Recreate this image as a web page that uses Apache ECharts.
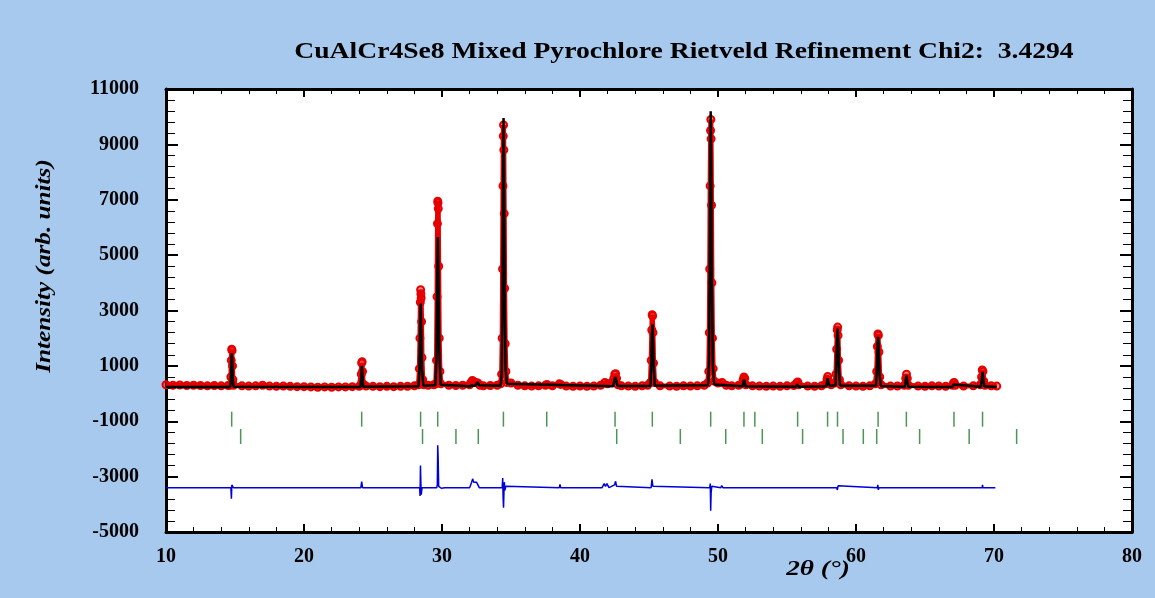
<!DOCTYPE html>
<html>
<head>
<meta charset="utf-8">
<script src="https://cdn.jsdelivr.net/npm/echarts@6/dist/echarts.min.js"></script>
<style>
  html, body { margin: 0; padding: 0; background: #a8c9ee; }
  #chart { width: 1155px; height: 598px; }
</style>
</head>
<body>
<div id="chart"></div>
<script>
// observed intensity, [2theta, counts]
var observed = [
  [10.0, 320], [10.5, 300], [11.0, 310], [11.5, 290], [12.0, 300], [12.5, 290], [13.0, 280], [13.5, 290], [14.0, 280], [14.5, 290],
  [14.65, 300], [14.70, 600], [14.73, 1200], [14.76, 1600], [14.79, 1550], [14.82, 1000], [14.85, 500], [14.90, 300],
  [15.5, 280], [16.0, 270], [16.5, 280], [17.0, 300], [17.5, 270], [18.0, 260], [18.5, 270], [19.0, 260], [19.5, 250], [20.0, 250],
  [20.5, 240], [21.0, 230], [21.5, 240], [22.0, 230], [22.5, 240], [23.0, 240], [23.5, 250], [24.0, 260],
  [24.10, 300], [24.15, 700], [24.18, 1100], [24.21, 1150], [24.24, 800], [24.28, 350],
  [24.5, 270], [25.0, 260], [25.5, 250], [26.0, 260], [26.5, 250], [27.0, 260], [27.5, 260], [28.0, 280],
  [28.30, 320], [28.36, 900], [28.40, 2000], [28.43, 3300], [28.45, 3750], [28.47, 3600], [28.49, 3450], [28.52, 2600], [28.55, 1300], [28.60, 500], [28.68, 320],
  [29.0, 300], [29.4, 320],
  [29.55, 350], [29.60, 1200], [29.64, 3500], [29.67, 6140], [29.69, 6950], [29.71, 6880], [29.73, 6680], [29.76, 4600], [29.80, 2000], [29.85, 800], [29.92, 350],
  [30.5, 300], [31.0, 290], [31.5, 300], [32.0, 320],
  [32.1, 400], [32.2, 470], [32.3, 440], [32.45, 400], [32.6, 380], [32.75, 300],
  [33.0, 280], [33.5, 290], [34.0, 300], [34.25, 350],
  [34.32, 700], [34.36, 2000], [34.39, 4500], [34.42, 7500], [34.44, 9300], [34.46, 9700], [34.48, 8800], [34.51, 6500], [34.54, 3800], [34.58, 1800], [34.63, 800], [34.70, 400],
  [35.0, 380], [35.5, 300], [36.0, 280], [36.5, 270], [37.0, 280], [37.5, 300], [37.6, 330], [38.0, 280], [38.5, 350], [38.6, 330],
  [39.0, 270], [39.5, 260], [40.0, 270], [40.5, 260], [41.0, 270], [41.5, 300], [41.8, 400], [42.0, 350], [42.3, 400],
  [42.45, 550], [42.52, 700], [42.58, 720], [42.65, 550], [42.75, 320],
  [43.0, 280], [43.5, 270], [44.0, 260], [44.5, 280], [44.9, 300],
  [45.10, 400], [45.16, 1200], [45.20, 2300], [45.23, 2850], [45.26, 2800], [45.29, 2200], [45.33, 1100], [45.40, 400],
  [45.8, 280], [46.5, 270], [47.0, 260], [47.5, 280], [48.0, 270], [48.5, 280], [49.0, 300], [49.25, 380],
  [49.33, 800], [49.37, 2200], [49.40, 4500], [49.43, 7500], [49.46, 9500], [49.48, 9900], [49.50, 9200], [49.53, 6800], [49.56, 4000], [49.60, 2000], [49.65, 900], [49.72, 450],
  [50.0, 380], [50.3, 400], [50.6, 300], [51.0, 280], [51.5, 300], [51.75, 350],
  [51.82, 500], [51.88, 600], [51.94, 550], [52.02, 320],
  [52.5, 280], [53.0, 270], [53.5, 260], [54.0, 270], [54.5, 260], [55.0, 280], [55.5, 290],
  [55.70, 380], [55.78, 420], [55.85, 320],
  [56.5, 270], [57.0, 260], [57.5, 280], [57.8, 350],
  [57.90, 520], [57.95, 620], [58.02, 450], [58.2, 320], [58.45, 380],
  [58.55, 700], [58.60, 1600], [58.64, 2300], [58.67, 2400], [58.70, 2100], [58.74, 1200], [58.80, 500], [58.9, 320],
  [59.5, 280], [60.0, 270], [60.5, 260], [61.0, 280], [61.4, 350],
  [61.50, 800], [61.55, 1700], [61.59, 2150], [61.62, 2100], [61.66, 1500], [61.72, 600], [61.82, 320],
  [62.5, 270], [63.0, 270], [63.5, 300],
  [63.60, 550], [63.66, 700], [63.72, 550], [63.80, 300],
  [64.5, 270], [65.0, 260], [65.5, 280], [66.0, 270], [66.5, 260], [67.0, 300],
  [67.06, 380], [67.12, 400], [67.2, 300],
  [67.8, 270], [68.5, 280], [69.0, 320],
  [69.10, 600], [69.15, 850], [69.20, 800], [69.26, 450], [69.35, 300],
  [69.8, 280], [70.2, 270]
];

// calculated profile
var calculated = [
  [10.0, 240], [14.65, 240], [14.70, 500], [14.74, 1200], [14.77, 1450], [14.80, 1200], [14.84, 500], [14.90, 250],
  [24.10, 240], [24.15, 600], [24.19, 1000], [24.23, 700], [24.28, 250],
  [28.30, 260], [28.36, 800], [28.41, 2400], [28.45, 3250], [28.49, 2400], [28.55, 900], [28.65, 280],
  [29.52, 300], [29.60, 1300], [29.65, 4000], [29.70, 5650], [29.74, 4200], [29.80, 1600], [29.90, 320],
  [32.0, 260], [32.15, 290], [32.4, 280], [32.5, 330], [32.58, 420], [32.68, 300],
  [34.25, 280], [34.33, 800], [34.38, 3000], [34.42, 7200], [34.46, 9950], [34.50, 7300], [34.55, 3000], [34.61, 900], [34.70, 350],
  [42.40, 260], [42.50, 480], [42.56, 600], [42.62, 480], [42.72, 270],
  [45.10, 270], [45.16, 1000], [45.21, 2100], [45.25, 2500], [45.29, 2000], [45.35, 900], [45.42, 280],
  [49.28, 300], [49.35, 1200], [49.40, 4500], [49.44, 8500], [49.47, 10200], [49.51, 8000], [49.56, 3800], [49.63, 1000], [49.72, 330],
  [51.78, 260], [51.84, 420], [51.88, 500], [51.93, 420], [52.0, 260],
  [55.65, 250], [55.75, 330], [55.85, 250],
  [57.85, 260], [57.91, 450], [57.95, 550], [58.0, 400], [58.1, 270],
  [58.52, 300], [58.58, 1200], [58.63, 2000], [58.67, 2350], [58.71, 1900], [58.77, 800], [58.85, 280],
  [61.45, 280], [61.52, 1000], [61.57, 1800], [61.60, 2050], [61.64, 1700], [61.70, 700], [61.80, 270],
  [63.55, 250], [63.61, 500], [63.66, 650], [63.71, 480], [63.80, 250],
  [67.00, 240], [67.07, 330], [67.12, 380], [67.18, 280],
  [69.05, 250], [69.12, 550], [69.17, 780], [69.22, 550], [69.30, 260], [70.2, 240]
];

// difference curve (obs - calc), plotted with offset
var difference = [
  [10.0, -3400], [14.70, -3400], [14.74, -3800], [14.77, -3300], [14.82, -3350], [14.88, -3400],
  [17.0, -3400], [17.05, -3350], [17.1, -3400],
  [24.12, -3400], [24.18, -3180], [24.24, -3400],
  [28.38, -3400], [28.41, -3700], [28.44, -2600], [28.47, -3250], [28.50, -3650], [28.55, -3400],
  [29.62, -3400], [29.66, -3300], [29.69, -1870], [29.72, -2300], [29.76, -3350], [29.85, -3400], [29.95, -3420], [30.2, -3400],
  [32.0, -3400], [32.15, -3200], [32.22, -3080], [32.3, -3200], [32.4, -3250], [32.5, -3200], [32.6, -3300], [32.7, -3400],
  [34.36, -3400], [34.40, -3050], [34.43, -3800], [34.46, -4120], [34.49, -3550], [34.52, -3200], [34.56, -3500], [34.62, -3350], [34.70, -3400],
  [38.5, -3400], [38.55, -3280], [38.6, -3400],
  [41.6, -3400], [41.75, -3250], [41.85, -3350], [41.95, -3250], [42.1, -3400], [42.5, -3300], [42.58, -3170], [42.65, -3350], [42.75, -3400],
  [45.15, -3400], [45.22, -3100], [45.28, -3350], [45.35, -3400],
  [49.40, -3400], [49.44, -3250], [49.47, -4230], [49.50, -3600], [49.55, -3350], [49.62, -3400],
  [50.2, -3400], [50.27, -3320], [50.35, -3400],
  [55.7, -3400], [55.75, -3330], [55.8, -3400],
  [58.6, -3400], [58.65, -3480], [58.7, -3330], [58.75, -3400],
  [61.55, -3400], [61.58, -3300], [61.62, -3480], [61.66, -3400],
  [63.62, -3400], [63.66, -3330], [63.7, -3400],
  [67.1, -3400], [67.13, -3350], [67.16, -3400],
  [69.14, -3400], [69.17, -3300], [69.2, -3400],
  [70.1, -3400]
];

// Bragg reflection positions (2theta) for the two phases
var braggPhase1 = [14.76, 24.18, 28.45, 29.69, 34.45, 37.59, 42.54, 45.24, 49.47, 51.88, 52.67, 55.77, 57.94, 58.66, 61.6, 63.65, 67.1, 69.17];
var braggPhase2 = [15.41, 28.59, 31.01, 32.63, 42.66, 47.27, 50.56, 53.21, 56.13, 59.06, 60.53, 61.5, 64.61, 68.2, 71.64];
var braggRows = [-925, -1550];

var serif = 'Liberation Serif, Times New Roman, serif';

var chart = echarts.init(document.getElementById('chart'));

function tickRow(list, level) {
  return list.map(function (x) { return [x, level]; });
}

var xAxisBase = {
  type: 'value', min: 10, max: 80, interval: 10,
  axisLine: { show: true, onZero: false, lineStyle: { color: '#000', width: 3 } },
  axisTick: { show: true, inside: true, length: 8, lineStyle: { color: '#000', width: 2 } },
  minorTick: { show: true, splitNumber: 5, length: 5, lineStyle: { color: '#000', width: 1 } },
  splitLine: { show: false }
};
var yAxisBase = {
  type: 'value', min: -5000, max: 11000, interval: 2000,
  axisLine: { show: true, onZero: false, lineStyle: { color: '#000', width: 3 } },
  axisTick: { show: true, inside: true, length: 12, lineStyle: { color: '#000', width: 2 } },
  minorTick: { show: true, splitNumber: 5, length: 9, lineStyle: { color: '#000', width: 1 } },
  splitLine: { show: false }
};

var option = {
  backgroundColor: '#a8c9ee',
  animation: false,
  grid: { left: 166, right: 23, top: 89, bottom: 66, show: true, backgroundColor: '#fff', borderWidth: 0 },
  xAxis: [
    Object.assign({}, xAxisBase, {
      position: 'bottom',
      axisLabel: { margin: 15, fontFamily: serif, fontWeight: 'bold', fontSize: 20, color: '#000' }
    }),
    Object.assign({}, xAxisBase, { position: 'top', axisLabel: { show: false } })
  ],
  yAxis: [
    Object.assign({}, yAxisBase, {
      position: 'left',
      axisLabel: {
        margin: 27, fontFamily: serif, fontWeight: 'bold', fontSize: 20, color: '#000',
        formatter: function (v) { return String(v); }
      }
    }),
    Object.assign({}, yAxisBase, { position: 'right', axisLabel: { show: false } })
  ],
  graphic: [
    {
      type: 'text', x: 684, y: 52, scaleX: 1.15,
      style: {
        text: 'CuAlCr4Se8 Mixed Pyrochlore Rietveld Refinement Chi2:  3.4294', fill: '#000',
        font: 'bold 24px ' + serif, align: 'center', verticalAlign: 'middle'
      }
    },
    {
      type: 'text', x: 45, y: 266, rotation: Math.PI / 2, scaleX: 1.2,
      style: {
        text: 'Intensity (arb. units)', fill: '#000',
        font: 'italic bold 21px ' + serif, align: 'center', verticalAlign: 'middle'
      }
    },
    {
      type: 'text', x: 818, y: 570, scaleX: 1.3,
      style: {
        text: '2θ (°)', fill: '#000',
        font: 'italic bold 21px ' + serif, align: 'center', verticalAlign: 'middle'
      }
    }
  ],
  series: [
    {
      name: 'Observed', type: 'line', data: observed,
      showSymbol: true, showAllSymbol: true, symbol: 'circle', symbolSize: 7,
      lineStyle: { color: '#e60000', width: 5 },
      itemStyle: { color: 'rgba(230,0,0,0.45)', borderColor: '#e60000', borderWidth: 2 },
      z: 2
    },
    {
      name: 'Calculated', type: 'line', data: calculated,
      showSymbol: false, lineStyle: { color: '#000', width: 2.5 }, z: 3
    },
    {
      name: 'Difference', type: 'line', data: difference,
      showSymbol: false, lineStyle: { color: '#0000d8', width: 1.5 }, z: 3
    },
    {
      name: 'Bragg 1', type: 'scatter', data: tickRow(braggPhase1, braggRows[0]),
      symbol: 'rect', symbolSize: [1.5, 15], itemStyle: { color: '#217a2c' }
    },
    {
      name: 'Bragg 2', type: 'scatter', data: tickRow(braggPhase2, braggRows[1]),
      symbol: 'rect', symbolSize: [1.5, 15], itemStyle: { color: '#217a2c' }
    }
  ]
};

chart.setOption(option);
</script>
</body>
</html>
